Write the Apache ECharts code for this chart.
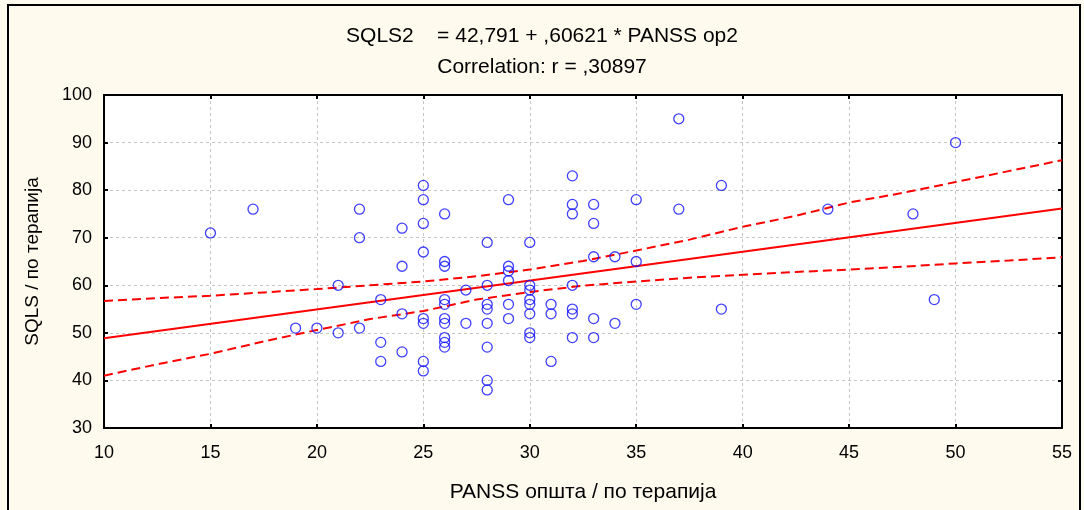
<!DOCTYPE html>
<html>
<head>
<meta charset="utf-8">
<script src="https://cdn.jsdelivr.net/npm/echarts@6/dist/echarts.min.js"></script>
<style>
html,body{margin:0;padding:0;background:#fefaee;}
#c{width:1084px;height:510px;}
</style>
</head>
<body>
<div id="c"></div>
<script>
// Observed points
const pointsX = [15,17,19,20,21,21,22,22,22,23,23,23,24,24,24,24,25,25,25,25,25,25,25,25,26,26,26,26,26,26,26,26,26,26,27,27,28,28,28,28,28,28,28,28,29,29,29,29,29,29,30,30,30,30,30,30,30,30,31,31,31,32,32,32,32,32,32,32,33,33,33,33,33,34,34,35,35,35,37,37,39,39,44,48,49,50];
const pointsY = [71,76,51,51,60,50,76,70,51,57,48,44,72,64,54,46,81,78,73,67,53,52,44,42,75,65,64,57,56,53,52,49,48,47,59,52,69,60,56,55,52,47,40,38,78,64,63,61,56,53,69,60,59,57,56,54,50,49,56,54,44,83,77,75,60,55,54,49,77,73,66,53,49,66,52,78,65,56,95,76,81,55,76,75,57,90];
// Regression line endpoints
const fitX = [10, 55];
const fitY = [48.85, 76.13];
// Confidence band
const bandX = [10,12.5,15,17.5,20,22.5,25,27.5,30,32.5,35,37.5,40,42.5,45,47.5,50,52.5,55];
const bandUpper = [56.7,57.3,57.8,58.5,59.2,60.0,60.8,61.9,63.3,65.1,67.3,69.6,72.3,74.6,77.4,79.4,81.7,84.0,86.3];
const bandLower = [41.0,43.4,45.6,48.2,50.6,52.9,54.6,57.0,58.6,59.9,60.8,61.6,62.2,62.8,63.3,63.9,64.6,65.2,65.9];
const xTicks = [10,15,20,25,30,35,40,45,50,55];
const yTicks = [30,40,50,60,70,80,90,100];
const titleLine1 = 'SQLS2    = 42,791 + ,60621 * PANSS op2';
const titleLine2 = 'Correlation: r = ,30897';
const xName = 'PANSS општа / по терапија';
const yName = 'SQLS / по терапија';

const font = 'Liberation Sans, Arial, sans-serif';
const zip = (a,b) => a.map((v,i)=>[v,b[i]]);
const chart = echarts.init(document.getElementById('c'), null, {renderer:'canvas'});
const gridLine = {show:true, lineStyle:{color:'#c4c4c4', type:[3,3], width:1}};
const axisLine = {show:true, onZero:false, lineStyle:{color:'#000', width:2}};
const tick = {show:true, inside:true, length:4, lineStyle:{color:'#000', width:2}};
chart.setOption({
  animation:false,
  backgroundColor:'#fefaee',
  graphic:[
    {type:'rect', shape:{x:8,y:5,width:1072,height:520}, style:{fill:'none', stroke:'#000', lineWidth:2}, silent:true, z:-1},
    {type:'text', left:'center', top:26, style:{text:titleLine1, font:'21px '+font, fill:'#000'}},
    {type:'text', left:'center', top:57, style:{text:titleLine2, font:'21px '+font, fill:'#000'}}
  ],
  grid:{left:104, right:22, top:95, bottom:82, show:true, backgroundColor:'#fff', borderWidth:0},
  xAxis:[
    {type:'value', min:10, max:55, interval:5, position:'bottom',
     name:xName, nameLocation:'middle', nameGap:54, nameTextStyle:{fontSize:21, fontFamily:font, color:'#000'},
     axisLine, axisTick:tick, splitLine:gridLine,
     axisLabel:{fontSize:18, fontFamily:font, color:'#000', margin:16}},
    {type:'value', min:10, max:55, interval:5, position:'top',
     axisLine, axisTick:tick, splitLine:{show:false}, axisLabel:{show:false}}
  ],
  yAxis:[
    {type:'value', min:30, max:100, interval:10, position:'left',
     name:yName, nameLocation:'middle', nameGap:62, nameRotate:90, nameTextStyle:{fontSize:19, fontFamily:font, color:'#000'},
     axisLine, axisTick:tick, splitLine:gridLine,
     axisLabel:{fontSize:18, fontFamily:font, color:'#000', margin:12}},
    {type:'value', min:30, max:100, interval:10, position:'right',
     axisLine, axisTick:tick, splitLine:{show:false}, axisLabel:{show:false}}
  ],
  series:[
    {type:'line', data:zip(bandX,bandUpper), symbol:'none', smooth:false,
     lineStyle:{color:'#ff0000', width:2, type:[9,5]}, z:2},
    {type:'line', data:zip(bandX,bandLower), symbol:'none', smooth:false,
     lineStyle:{color:'#ff0000', width:2, type:[9,5]}, z:2},
    {type:'line', data:zip(fitX,fitY), symbol:'none',
     lineStyle:{color:'#ff0000', width:2}, z:2},
    {type:'scatter', data:zip(pointsX,pointsY), symbol:'circle', symbolSize:10,
     itemStyle:{color:'rgba(0,0,0,0)', borderColor:'#1010ff', borderWidth:1.3}, z:3}
  ]
});
</script>
</body>
</html>
